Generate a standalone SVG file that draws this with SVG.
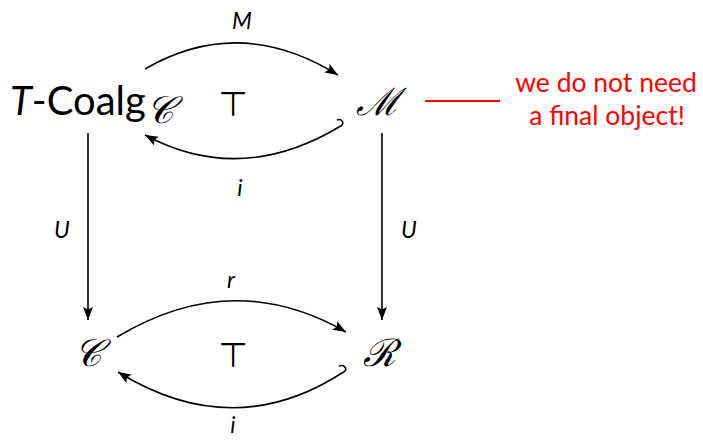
<svg xmlns="http://www.w3.org/2000/svg" width="703" height="440" viewBox="0 0 703 440">
<style>
.lbl{font-family:"Lato","Liberation Sans",sans-serif;font-style:italic;font-size:23px;fill:#000;text-anchor:middle}
.obj{font-family:"Lato","Liberation Sans",sans-serif;font-size:40px;fill:#000}
.scr{font-family:"DejaVu Serif","Liberation Serif",serif;font-style:italic;font-size:38px;fill:#000}
.top{font-family:"DejaVu Sans",sans-serif;font-size:34px;fill:#000;text-anchor:middle}
.note{font-family:"Lato","Liberation Sans",sans-serif;font-size:26.5px;fill:#ff0000;text-anchor:middle}
.ed{fill:none;stroke:#000;stroke-width:1.6}
</style>
<defs>
<marker id="ah" markerUnits="userSpaceOnUse" markerWidth="14" markerHeight="12" refX="13" refY="5" orient="auto">
<path d="M0,0 L13,5 L0,10 L2.5,5 Z" fill="#000"/>
</marker>
</defs>
<g id="connectors">
<path class="ed" d="M145,69 Q240,14 338,75" marker-end="url(#ah)"/>
<path class="ed" d="M337,120 C342,118 346,124 339,127 Q240,186 145,135" marker-end="url(#ah)"/>
<path class="ed" d="M88,133 L88,320" marker-end="url(#ah)"/>
<path class="ed" d="M382,133 L382,320" marker-end="url(#ah)"/>
<path class="ed" d="M117,337 Q233,267 346,332" marker-end="url(#ah)"/>
<path class="ed" d="M339,366 C345,364 349,370 342,373 Q233,443 118,372" marker-end="url(#ah)"/>
<text class="lbl" x="242" y="29">M</text>
<text class="lbl" x="240" y="196">i</text>
<text class="lbl" x="62" y="238">U</text>
<text class="lbl" x="409" y="238">U</text>
<text class="lbl" x="231" y="288">r</text>
<text class="lbl" x="233" y="433">i</text>
<text class="top" x="233" y="116">⊤</text>
<text class="top" x="233" y="367">⊤</text>
</g>
<g id="node-tcoalg">
<text class="obj" x="10" y="115"><tspan font-style="italic">T</tspan>-Coalg<tspan class="scr" font-size="23" dy="8">𝒞</tspan></text>
</g>
<g id="node-M">
<text class="scr" x="356" y="115">ℳ</text>
</g>
<g id="node-C">
<text class="scr" x="74" y="366">𝒞</text>
</g>
<g id="node-R">
<text class="scr" x="363" y="366">ℛ</text>
</g>
<g id="note">
<line x1="425" y1="101" x2="500" y2="101" stroke="#ff0000" stroke-width="2"/>
<text class="note" x="606" y="92">we do not need</text>
<text class="note" x="607" y="125">a final object!</text>
</g>
</svg>
